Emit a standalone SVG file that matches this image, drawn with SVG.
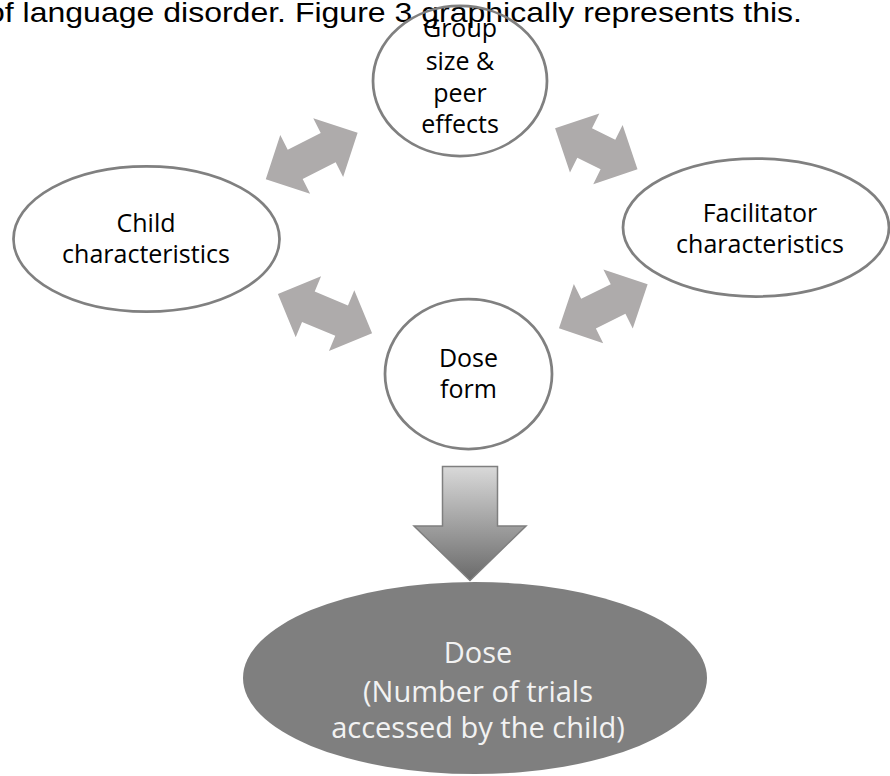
<svg xmlns="http://www.w3.org/2000/svg" width="890" height="776" viewBox="0 0 890 776">
  <style>
    .node { fill: none; stroke: #808080; stroke-width: 2.75; }
    .lbl { font-family: "Open Sans", "Noto Sans", sans-serif; font-size: 25px; fill: #000; text-anchor: middle; }
    .dlbl { font-family: "Open Sans", "Noto Sans", sans-serif; font-size: 29px; fill: #f2f2f2; text-anchor: middle; }
    .conn { fill: #AEABAB; stroke: none; }
    .hdr { font-family: "Liberation Sans", Arial, sans-serif; font-size: 27.5px; fill: #000; }
  </style>
  <defs>
    <linearGradient id="downGrad" x1="0" y1="0" x2="0" y2="1">
      <stop offset="0" stop-color="#d9d9d9"/>
      <stop offset="1" stop-color="#6a6a6a"/>
    </linearGradient>
  </defs>
  <rect width="890" height="776" fill="#ffffff"/>

  <text class="hdr" x="-13" y="21.7" textLength="815" lengthAdjust="spacingAndGlyphs">of language disorder. Figure 3 graphically represents this.</text>

  <g id="connectors">
    <polygon class="conn" transform="translate(311.7,156) rotate(-26.9)" points="-51.5,0 -18.5,-33 -18.5,-16.5 18.5,-16.5 18.5,-33 51.5,0 18.5,33 18.5,16.5 -18.5,16.5 -18.5,33"/>
    <polygon class="conn" transform="translate(596.3,148.8) rotate(26.4)" points="-46,0 -13,-33 -13,-16.5 13,-16.5 13,-33 46,0 13,33 13,16.5 -13,16.5 -13,33"/>
    <polygon class="conn" transform="translate(325,313.7) rotate(22.6)" points="-51,0 -18,-33 -18,-16.5 18,-16.5 18,-33 51,0 18,33 18,16.5 -18,16.5 -18,33"/>
    <polygon class="conn" transform="translate(603.3,306.3) rotate(-26.4)" points="-49.5,0 -16.5,-33 -16.5,-16.5 16.5,-16.5 16.5,-33 49.5,0 16.5,33 16.5,16.5 -16.5,16.5 -16.5,33"/>
    <path d="M442.5,466.5 H497.5 V526 H526 L470,580.5 L414,526 H442.5 Z" fill="url(#downGrad)" stroke="#7f7f7f" stroke-width="1.5"/>
  </g>

  <g id="node-group">
    <ellipse class="node" cx="460" cy="81" rx="87" ry="75"/>
    <text class="lbl" x="460" y="37">Group</text>
    <text class="lbl" x="460" y="69.5">size &amp;</text>
    <text class="lbl" x="460" y="101.5">peer</text>
    <text class="lbl" x="460" y="133">effects</text>
  </g>

  <g id="node-child">
    <ellipse class="node" cx="146.5" cy="239" rx="133" ry="72.7"/>
    <text class="lbl" x="146" y="232">Child</text>
    <text class="lbl" x="146" y="263">characteristics</text>
  </g>

  <g id="node-facilitator">
    <ellipse class="node" cx="756" cy="227.5" rx="133" ry="69"/>
    <text class="lbl" x="760" y="221.5">Facilitator</text>
    <text class="lbl" x="760" y="252.5">characteristics</text>
  </g>

  <g id="node-doseform">
    <ellipse class="node" cx="468.5" cy="374" rx="83.5" ry="75"/>
    <text class="lbl" x="468.5" y="367">Dose</text>
    <text class="lbl" x="468.5" y="398">form</text>
  </g>

  <g id="node-dose">
    <ellipse cx="475" cy="678" rx="232" ry="96" fill="#7f7f7f"/>
    <text class="dlbl" x="478" y="662.7">Dose</text>
    <text class="dlbl" x="478" y="701.7">(Number of trials</text>
    <text class="dlbl" x="478" y="738">accessed by the child)</text>
  </g>
</svg>
